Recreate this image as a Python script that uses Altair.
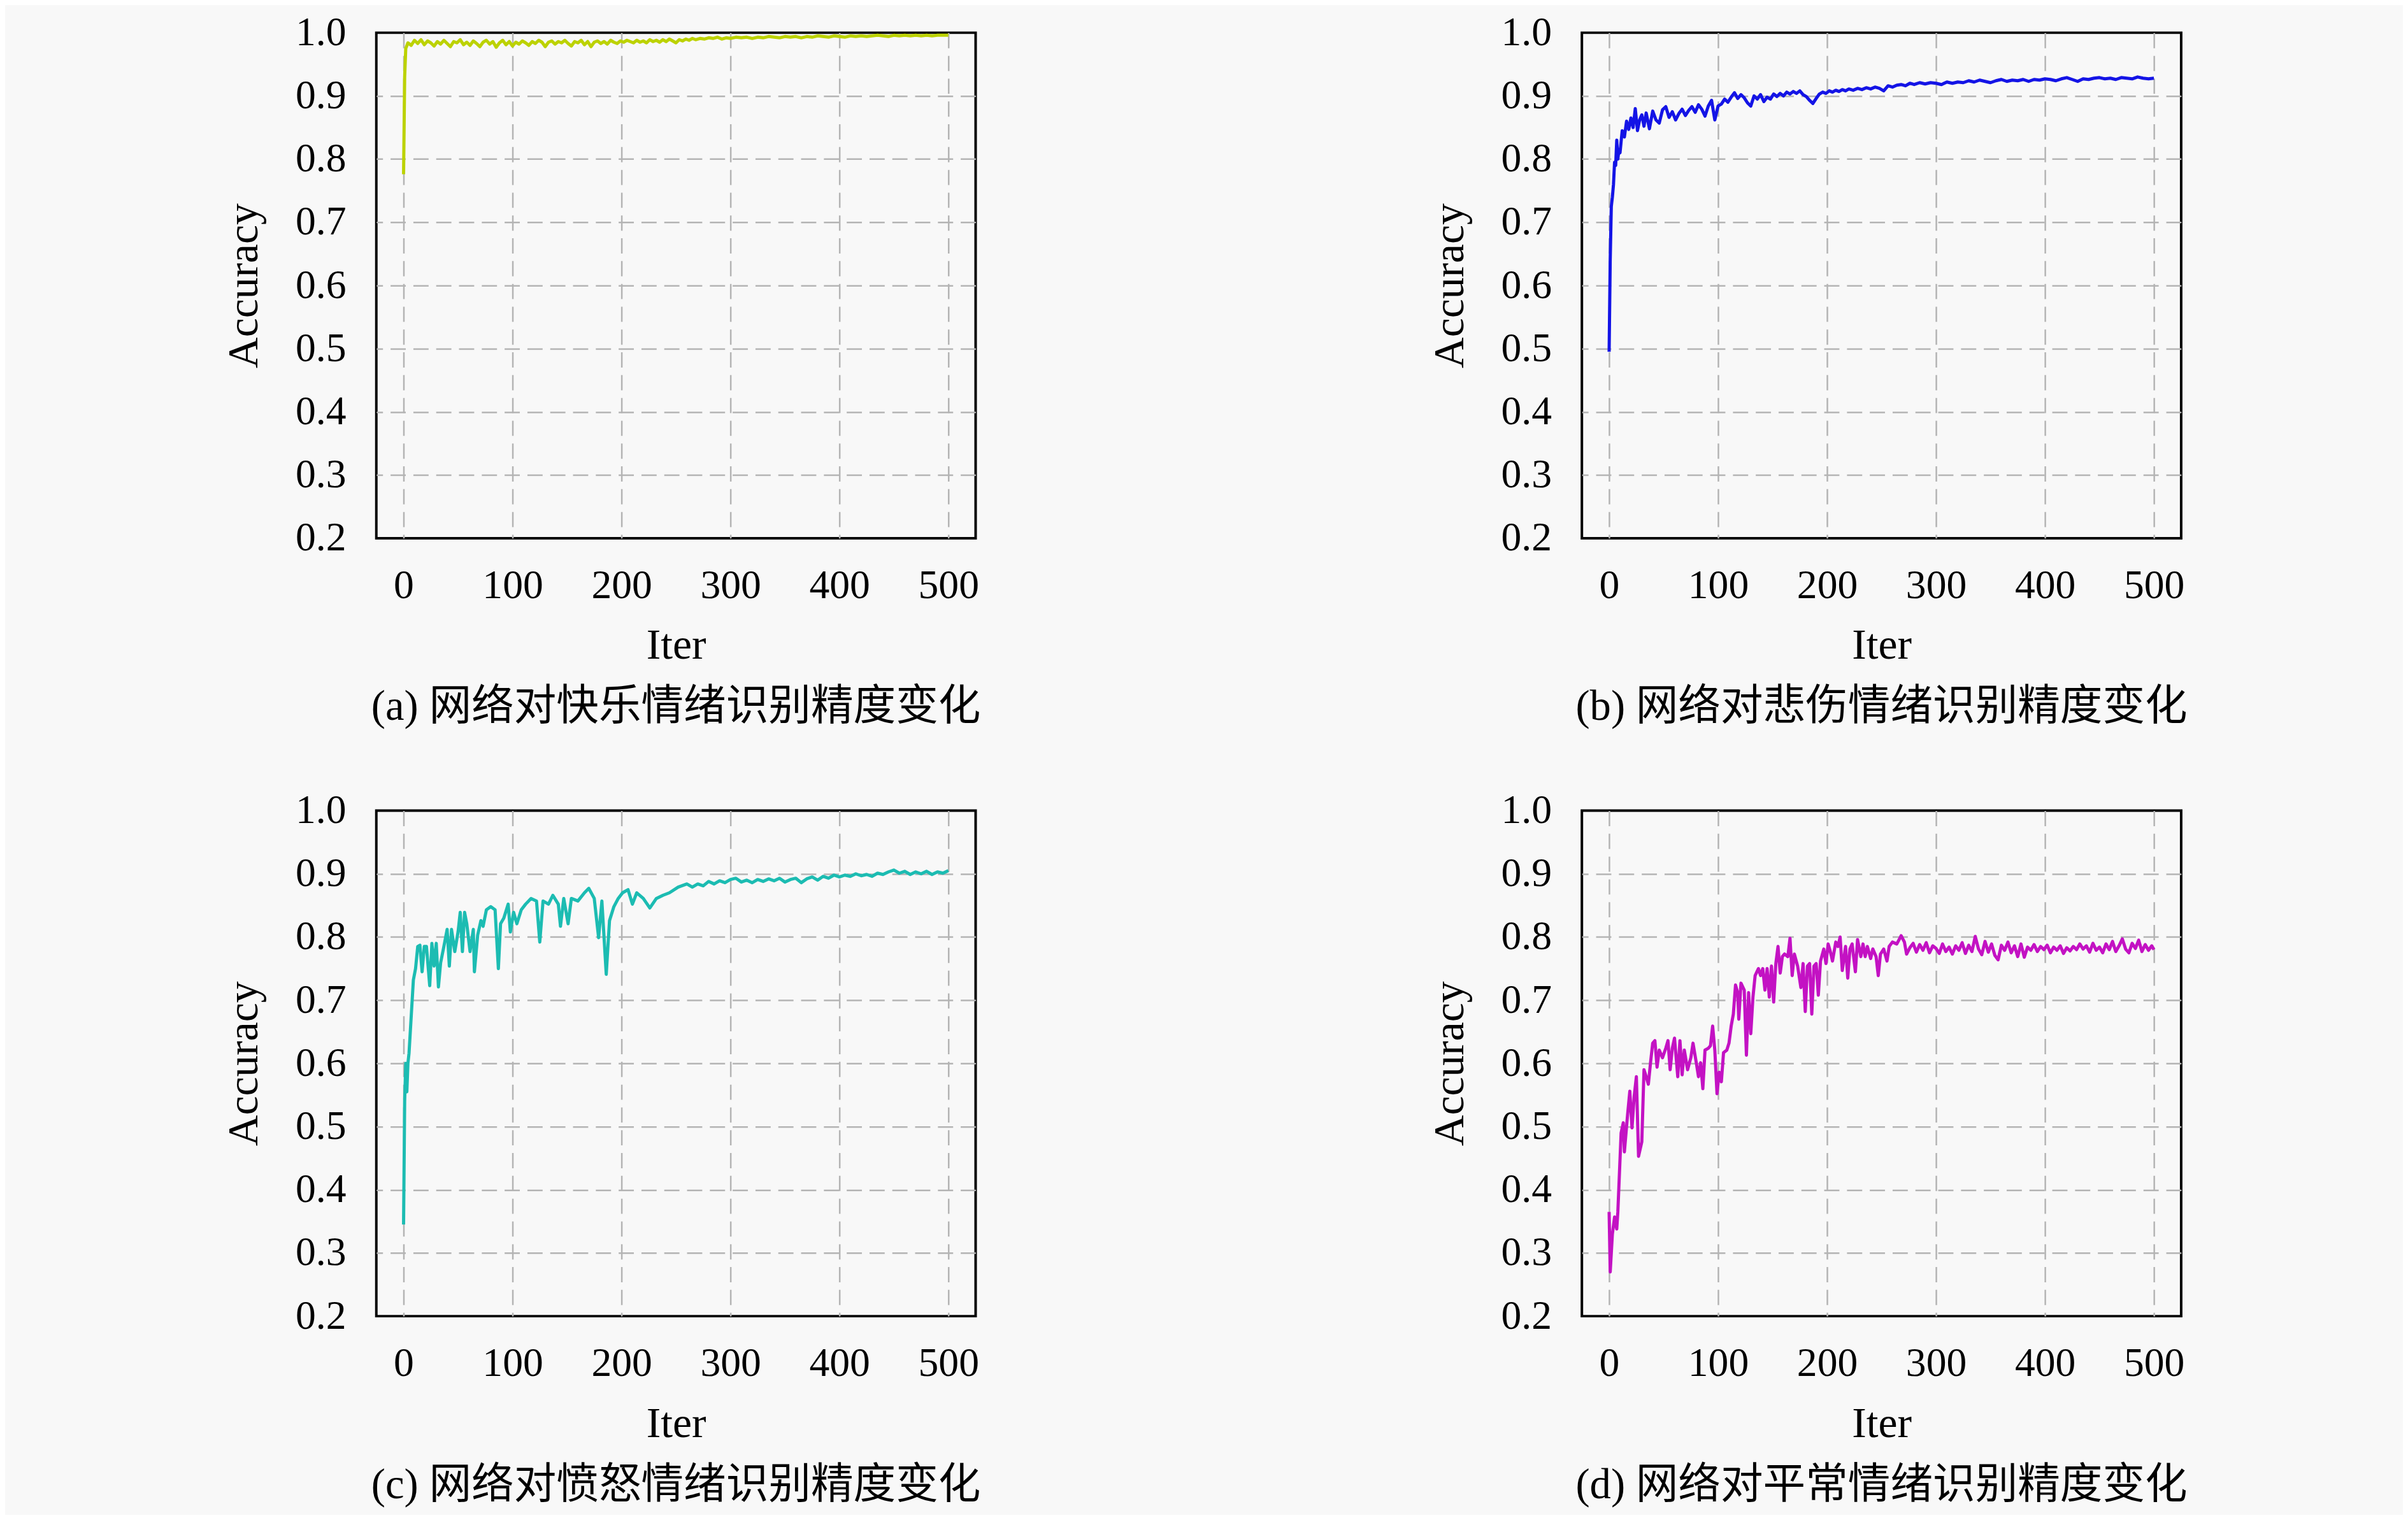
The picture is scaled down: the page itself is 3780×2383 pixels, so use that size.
import altair as alt
import pandas as pd

X_TICKS = [0, 100, 200, 300, 400, 500]
Y_TICKS = [0.2, 0.3, 0.4, 0.5, 0.6, 0.7, 0.8, 0.9, 1.0]
Y_GRID = [0.3, 0.4, 0.5, 0.6, 0.7, 0.8, 0.9]

CAPTIONS = [
    "(a) 网络对快乐情绪识别精度变化",
    "(b) 网络对悲伤情绪识别精度变化",
    "(c) 网络对愤怒情绪识别精度变化",
    "(d) 网络对平常情绪识别精度变化",
]
COLORS = ["#bcd200", "#1414e6", "#1cbcb2", "#c312c3"]

HAPPY_ITER = [0, 1, 2, 4, 7, 10, 13, 16, 19, 22, 25, 28, 31, 34, 37, 40, 43, 46, 49, 52, 55, 58, 61, 64, 67,
              70, 73, 76, 79, 82, 85, 88, 91, 94, 97, 100, 103, 106, 109, 112, 115, 118, 121, 124, 127, 130,
              133, 136, 139, 142, 145, 148, 151, 154, 157, 160, 163, 166, 169, 172, 175, 178, 181, 184, 187,
              190, 193, 196, 199, 202, 205, 208, 211, 214, 217, 220, 223, 226, 229, 232, 235, 238, 241, 244,
              247, 250, 253, 256, 259, 262, 265, 268, 272, 276, 280, 284, 288, 292, 296, 300, 305, 310, 315,
              320, 325, 330, 335, 340, 345, 350, 355, 360, 365, 370, 375, 380, 385, 390, 395, 400, 405, 410,
              415, 420, 425, 430, 435, 440, 445, 450, 455, 460, 465, 470, 475, 480, 485, 490, 495, 500]
HAPPY_ACC = [0.776, 0.93, 0.975, 0.984, 0.980, 0.988, 0.983, 0.989, 0.981, 0.987, 0.984, 0.979, 0.986, 0.982,
             0.988, 0.983, 0.978, 0.986, 0.984, 0.989, 0.981, 0.985, 0.980, 0.987, 0.983, 0.978, 0.985, 0.988,
             0.982, 0.986, 0.977, 0.984, 0.988, 0.981, 0.986, 0.979, 0.985, 0.982, 0.987, 0.984, 0.980, 0.986,
             0.983, 0.988, 0.985, 0.978, 0.985, 0.987, 0.982, 0.986, 0.984, 0.988, 0.983, 0.979, 0.986, 0.984,
             0.988, 0.981, 0.986, 0.978, 0.985, 0.987, 0.983, 0.986, 0.982, 0.988, 0.985, 0.983, 0.987, 0.985,
             0.988, 0.986, 0.984, 0.988, 0.985, 0.987, 0.984, 0.989, 0.986, 0.988, 0.985, 0.989, 0.986, 0.990,
             0.987, 0.984, 0.989, 0.987, 0.990, 0.988, 0.991, 0.989, 0.991, 0.990, 0.992, 0.991, 0.993, 0.990,
             0.992, 0.991, 0.993, 0.992, 0.993, 0.991, 0.993, 0.992, 0.994, 0.993, 0.992, 0.994, 0.993, 0.994,
             0.992, 0.994, 0.993, 0.995, 0.994, 0.993, 0.995, 0.994, 0.993, 0.995, 0.994, 0.995, 0.994, 0.995,
             0.996, 0.995, 0.994, 0.996, 0.995, 0.996, 0.995, 0.996, 0.995, 0.996, 0.995, 0.996, 0.996, 0.996]

SAD_ITER = [0, 1, 2, 3, 4, 5, 6, 7, 8, 9, 10, 12, 14, 16, 18, 20, 22, 24, 26, 28, 30, 32, 34, 37, 40, 43, 46,
            49, 52, 55, 58, 61, 64, 67, 70, 73, 76, 79, 82, 85, 88, 91, 94, 97, 100, 103, 106, 109, 112, 115,
            118, 121, 124, 127, 130, 133, 136, 139, 142, 145, 148, 151, 154, 157, 160, 163, 166, 169, 172, 175,
            178, 181, 184, 187, 190, 193, 196, 199, 202, 205, 208, 211, 214, 217, 220, 224, 228, 232, 236, 240,
            244, 248, 252, 256, 260, 264, 268, 272, 276, 280, 285, 290, 295, 300, 305, 310, 315, 320, 325, 330,
            335, 340, 345, 350, 355, 360, 365, 370, 375, 380, 385, 390, 395, 400, 405, 410, 415, 420, 425, 430,
            435, 440, 445, 450, 455, 460, 465, 470, 475, 480, 485, 490, 495, 500]
SAD_ACC = [0.495, 0.64, 0.725, 0.74, 0.76, 0.795, 0.79, 0.83, 0.80, 0.815, 0.81, 0.845, 0.835, 0.86, 0.847, 0.865,
           0.85, 0.88, 0.845, 0.862, 0.87, 0.852, 0.873, 0.848, 0.876, 0.862, 0.857, 0.878, 0.883, 0.866, 0.875,
           0.862, 0.872, 0.879, 0.869, 0.877, 0.883, 0.874, 0.886, 0.879, 0.868, 0.884, 0.893, 0.862, 0.884,
           0.887, 0.895, 0.89, 0.898, 0.905, 0.896, 0.902, 0.897, 0.889, 0.884, 0.90, 0.895, 0.902, 0.891, 0.898,
           0.895, 0.903, 0.899, 0.904, 0.90, 0.906, 0.903, 0.907, 0.904, 0.908, 0.902, 0.899, 0.893, 0.888,
           0.896, 0.903, 0.906, 0.904, 0.908, 0.906, 0.909, 0.907, 0.91, 0.908, 0.911, 0.909, 0.912, 0.91, 0.913,
           0.911, 0.914, 0.912, 0.908, 0.916, 0.914, 0.917, 0.918, 0.916, 0.92, 0.918, 0.921, 0.919, 0.921, 0.92,
           0.918, 0.922, 0.92, 0.922, 0.921, 0.924, 0.922, 0.925, 0.923, 0.921, 0.924, 0.926, 0.923, 0.925,
           0.924, 0.926, 0.923, 0.926, 0.925, 0.927, 0.926, 0.924, 0.927, 0.929, 0.926, 0.923, 0.927, 0.926,
           0.928, 0.929, 0.927, 0.928, 0.926, 0.929, 0.928, 0.927, 0.93, 0.928, 0.927, 0.928]

ANGER_ITER = [0, 1, 2, 3, 4, 5, 7, 9, 11, 13, 15, 17, 19, 21, 24, 26, 28, 30, 32, 34, 37, 40, 42, 44, 47, 50,
              52, 54, 56, 58, 61, 64, 65, 68, 71, 73, 76, 80, 84, 87, 89, 92, 96, 98, 101, 104, 108, 112, 117,
              122, 125, 128, 133, 137, 142, 144, 147, 151, 154, 160, 166, 170, 175, 179, 182, 186, 189, 193, 197,
              201, 206, 210, 214, 220, 226, 232, 238, 244, 252, 260, 265, 270, 275, 280, 285, 290, 295, 300, 305,
              310, 315, 320, 325, 330, 335, 340, 345, 350, 355, 360, 365, 370, 375, 380, 385, 390, 395, 400, 405,
              410, 415, 420, 425, 430, 435, 440, 445, 450, 455, 460, 465, 470, 475, 480, 485, 490, 495, 500]
ANGER_ACC = [0.345, 0.54, 0.60, 0.555, 0.60, 0.616, 0.674, 0.732, 0.75, 0.785, 0.787, 0.745, 0.785, 0.785,
             0.723, 0.79, 0.754, 0.79, 0.721, 0.759, 0.785, 0.812, 0.754, 0.812, 0.777, 0.808, 0.839, 0.777,
             0.839, 0.821, 0.777, 0.812, 0.745, 0.803, 0.826, 0.817, 0.843, 0.848, 0.843, 0.75, 0.821, 0.83,
             0.852, 0.808, 0.839, 0.821, 0.843, 0.852, 0.861, 0.857, 0.792, 0.857, 0.852, 0.866, 0.852, 0.817,
             0.861, 0.821, 0.861, 0.857, 0.87, 0.877, 0.861, 0.799, 0.857, 0.741, 0.826, 0.848, 0.861, 0.87,
             0.875, 0.852, 0.87, 0.861, 0.846, 0.861, 0.866, 0.87, 0.879, 0.884, 0.879, 0.884, 0.881, 0.888,
             0.884, 0.889, 0.886, 0.891, 0.893, 0.887, 0.89, 0.886, 0.891, 0.888, 0.892, 0.889, 0.893, 0.887,
             0.891, 0.893, 0.886, 0.892, 0.895, 0.89, 0.896, 0.893, 0.898, 0.895, 0.898, 0.896, 0.90, 0.897,
             0.899, 0.896, 0.901, 0.899, 0.903, 0.906, 0.901, 0.904, 0.899, 0.903, 0.90, 0.904, 0.899, 0.903,
             0.901, 0.905]

NEUTRAL_ITER = [0, 1, 3, 5, 7, 8, 11, 13, 14, 17, 19, 21, 23, 25, 27, 30, 32, 34, 36, 38, 40, 42, 44, 46, 49,
                52, 54, 56, 58, 60, 63, 65, 67, 69, 72, 75, 77, 80, 82, 84, 86, 88, 91, 93, 95, 97, 99, 101,
                103, 105, 108, 110, 112, 114, 116, 118, 119, 121, 124, 126, 128, 130, 132, 134, 137, 139, 141,
                143, 145, 147, 149, 151, 153, 155, 157, 159, 161, 164, 166, 168, 170, 173, 176, 178, 180, 182,
                184, 186, 188, 190, 192, 194, 197, 199, 201, 203, 205, 208, 210, 212, 214, 217, 219, 221, 223,
                226, 228, 231, 233, 235, 237, 240, 242, 245, 247, 249, 252, 255, 257, 260, 264, 268, 271, 273,
                276, 279, 282, 285, 288, 291, 294, 297, 300, 303, 306, 309, 312, 315, 318, 321, 324, 327, 330,
                333, 336, 339, 342, 345, 348, 351, 354, 357, 360, 363, 366, 369, 372, 375, 378, 381, 384, 387,
                390, 393, 396, 399, 402, 405, 408, 411, 414, 417, 420, 423, 426, 429, 432, 435, 438, 441, 444,
                447, 450, 453, 456, 459, 462, 465, 468, 471, 474, 477, 480, 483, 486, 489, 492, 495, 498, 500]
NEUTRAL_ACC = [0.365, 0.27, 0.33, 0.357, 0.338, 0.365, 0.49, 0.506, 0.46, 0.52, 0.556, 0.498, 0.548, 0.579,
               0.453, 0.476, 0.59, 0.579, 0.567, 0.601, 0.632, 0.636, 0.594, 0.621, 0.609, 0.624, 0.636, 0.59,
               0.624, 0.64, 0.579, 0.636, 0.582, 0.621, 0.59, 0.609, 0.632, 0.601, 0.579, 0.601, 0.56, 0.621,
               0.624, 0.628, 0.659, 0.621, 0.552, 0.586, 0.571, 0.617, 0.621, 0.632, 0.659, 0.678, 0.724, 0.712,
               0.67, 0.727, 0.716, 0.613, 0.712, 0.647, 0.705, 0.739, 0.75, 0.739, 0.75, 0.716, 0.75, 0.705,
               0.754, 0.697, 0.758, 0.785, 0.743, 0.769, 0.773, 0.769, 0.798, 0.739, 0.773, 0.754, 0.72, 0.758,
               0.682, 0.754, 0.758, 0.678, 0.754, 0.758, 0.708, 0.762, 0.781, 0.758, 0.789, 0.777, 0.762, 0.792,
               0.785, 0.80, 0.747, 0.785, 0.735, 0.781, 0.789, 0.745, 0.796, 0.769, 0.789, 0.769, 0.785, 0.766,
               0.781, 0.769, 0.739, 0.773, 0.781, 0.762, 0.785, 0.792, 0.789, 0.802, 0.792, 0.773, 0.783, 0.79,
               0.776, 0.788, 0.779, 0.791, 0.775, 0.786, 0.782, 0.774, 0.789, 0.777, 0.784, 0.773, 0.786, 0.779,
               0.791, 0.774, 0.787, 0.777, 0.801, 0.781, 0.772, 0.793, 0.776, 0.789, 0.771, 0.764, 0.787, 0.779,
               0.792, 0.775, 0.786, 0.769, 0.789, 0.768, 0.784, 0.779, 0.788, 0.777, 0.785, 0.78, 0.787, 0.775,
               0.784, 0.779, 0.786, 0.774, 0.783, 0.778, 0.785, 0.78, 0.789, 0.781, 0.786, 0.776, 0.79, 0.779,
               0.784, 0.775, 0.789, 0.78, 0.793, 0.777, 0.786, 0.797, 0.781, 0.775, 0.79, 0.782, 0.795, 0.777,
               0.788, 0.779, 0.786, 0.78]

SERIF = "Liberation Serif, Noto Sans CJK SC"
BG = "#f8f8f8"

X_SCALE = alt.Scale(domain=[-25, 525], nice=False, zero=False)
Y_SCALE = alt.Scale(domain=[0.2, 1.0], nice=False, zero=False)


def panel(iters, accs, color, caption):
    df = pd.DataFrame({"Iter": iters, "Accuracy": accs})
    x_enc = alt.X(
        "Iter:Q", scale=X_SCALE,
        axis=alt.Axis(values=X_TICKS, title="Iter", labelPadding=43, titlePadding=29, grid=True),
    )
    # invisible layer that only carries the horizontal grid (interior values only,
    # so the dashed grid does not paint over the black frame)
    grid_layer = alt.Chart(df).mark_line(opacity=0).encode(
        x=x_enc,
        y=alt.Y(
            "Accuracy:Q", scale=Y_SCALE,
            axis=alt.Axis(values=Y_GRID, orient="right", grid=True, labels=False,
                          ticks=False, domain=False, title=None),
        ),
    )
    line_layer = alt.Chart(df).mark_line(color=color, strokeWidth=5, strokeJoin="round").encode(
        x=x_enc,
        y=alt.Y(
            "Accuracy:Q", scale=Y_SCALE,
            axis=alt.Axis(values=Y_TICKS, format=".1f", title="Accuracy", grid=False,
                          labelPadding=48, titlePadding=46),
        ),
    )
    return (
        alt.layer(grid_layer, line_layer)
        .resolve_axis(y="independent")
        .properties(
            width=946,
            height=798,
            title=alt.TitleParams(
                text=caption, orient="bottom", anchor="middle", font=SERIF,
                fontSize=67, fontWeight="normal", color="black", offset=30,
            ),
        )
    )


pa = panel(HAPPY_ITER, HAPPY_ACC, COLORS[0], CAPTIONS[0])
pb = panel(SAD_ITER, SAD_ACC, COLORS[1], CAPTIONS[1])
pc = panel(ANGER_ITER, ANGER_ACC, COLORS[2], CAPTIONS[2])
pd_ = panel(NEUTRAL_ITER, NEUTRAL_ACC, COLORS[3], CAPTIONS[3])

chart = (
    alt.vconcat(
        alt.hconcat(pa, pb, spacing=702),
        alt.hconcat(pc, pd_, spacing=702),
        spacing=94,
    )
    .properties(padding={"left": 342, "top": 3, "right": 338, "bottom": 5}, background=BG)
    .configure_view(stroke="black", strokeWidth=4)
    .configure_axis(
        domain=False,
        ticks=False,
        gridColor="#b4b4b4",
        gridDash=[24, 12],
        gridWidth=2.5,
        labelFont=SERIF,
        labelFontSize=64,
        labelColor="black",
        titleFont=SERIF,
        titleFontSize=68,
        titleFontWeight="normal",
        titleColor="black",
    )
)

chart.save("out.html", embed_options={"renderer": "svg", "actions": False})
